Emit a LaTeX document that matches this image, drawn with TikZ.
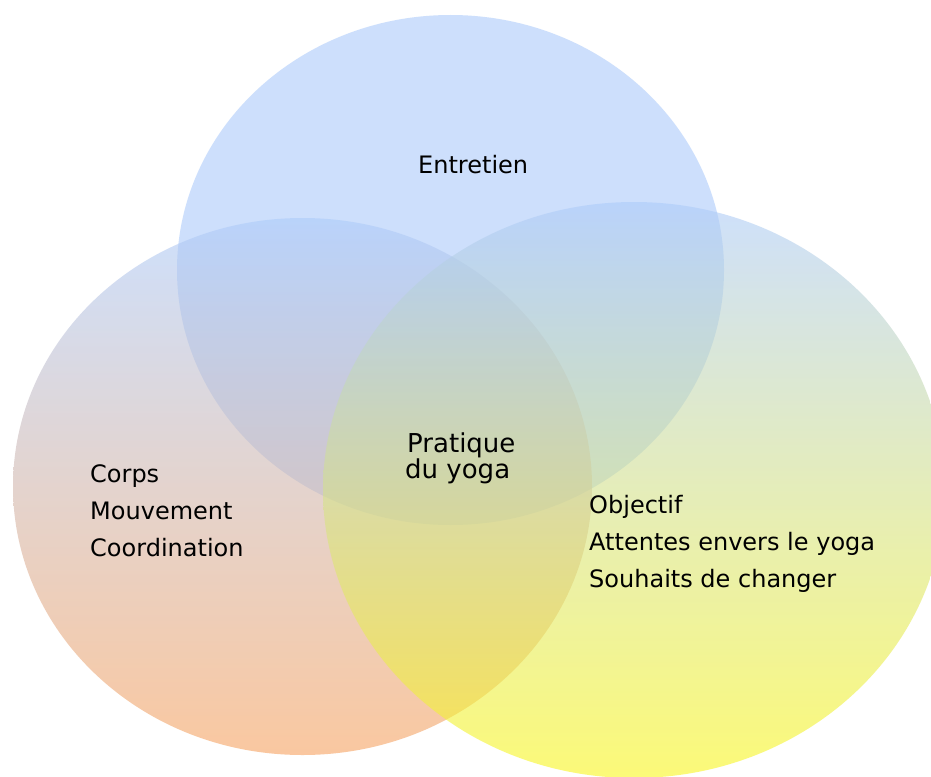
\documentclass[tikz,border=0pt]{standalone}
\usepackage{fontspec}
\setmainfont{DejaVu Sans}
\definecolor{vblue}{RGB}{173,203,250}
\definecolor{vlav}{RGB}{205,185,215}
\definecolor{vorange}{RGB}{247,163,97}
\definecolor{vyellow}{RGB}{250,247,30}
\tikzset{
  venn/.style={fill opacity=0.6, draw=none},
  lbl/.style={anchor=base west, inner sep=0pt, font=\fontsize{24}{28}\selectfont, text=black},
  ctr/.style={anchor=base west, inner sep=0pt, font=\fontsize{26}{28}\selectfont, text=black}
}
\begin{document}
\begin{tikzpicture}[x=1pt,y=-1pt]
\useasboundingbox (0,0) rectangle (931,776);
\clip (0,0) rectangle (931,776);
\fill[white] (0,0) rectangle (931,776);
% top circle
\path[venn, fill=vblue] (450.5,270) ellipse [x radius=273.5, y radius=255];
% left circle
\shade[venn, top color=vblue, middle color=vlav, bottom color=vorange] (302.5,486.5) ellipse [x radius=289.5, y radius=268.5];
% right circle
\shade[venn, top color=vblue, bottom color=vyellow] (634,490) ellipse [x radius=311, y radius=288];
% labels
\node[lbl] (ent) at (418,173) {Entretien};
\node[ctr] (p1) at (407,452) {Pratique};
\node[ctr] (p2) at (405,478) {du yoga};
\node[lbl] (l1) at (90,482) {Corps};
\node[lbl] (l2) at (90,519) {Mouvement};
\node[lbl] (l3) at (90,556) {Coordination};
\node[lbl] (r1) at (589,513) {Objectif};
\node[lbl] (r2) at (589,550) {Attentes envers le yoga};
\node[lbl] (r3) at (589,587) {Souhaits de changer};
\end{tikzpicture}
\end{document}
